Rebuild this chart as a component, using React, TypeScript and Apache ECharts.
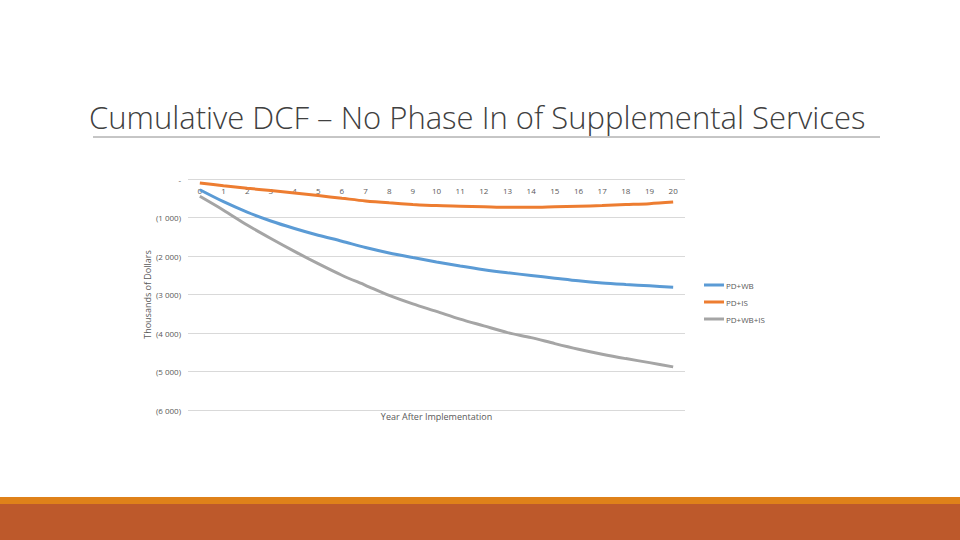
import React, { useEffect, useRef } from "react";
import * as echarts from "echarts";

const years = ["0","1","2","3","4","5","6","7","8","9","10","11","12","13","14","15","16","17","18","19","20"];
const pdWB = [-280, -590, -860, -1090, -1285, -1460, -1615, -1780, -1920, -2040, -2155, -2260, -2355, -2435, -2505, -2575, -2645, -2700, -2740, -2775, -2810];
const pdIS = [-105, -175, -240, -300, -365, -430, -500, -570, -620, -660, -690, -705, -720, -735, -735, -720, -705, -690, -665, -640, -600];
const pdWBIS = [-450, -810, -1195, -1545, -1880, -2200, -2500, -2760, -3025, -3245, -3440, -3640, -3815, -3990, -4120, -4275, -4420, -4550, -4665, -4770, -4880];
const seriesNames = ["PD+WB", "PD+IS", "PD+WB+IS"];
const seriesColors = ["#5B9BD5", "#ED7D31", "#A5A5A5"];
const titleText = "Cumulative DCF \u2013 No Phase In of Supplemental Services";

function fmt(v: number): string {
  if (v === 0) return "-";
  const a = Math.abs(v);
  const s = String(a).replace(/\B(?=(\d{3})+(?!\d))/g, " ");
  return v < 0 ? "(" + s + ")" : s;
}

export default function App() {
  const ref = useRef<HTMLDivElement>(null);
  useEffect(() => {
    if (!ref.current) return;
    const chart = echarts.init(ref.current, undefined, { renderer: "svg" });
    const labelFont = { color: "#595959", fontSize: 8, fontFamily: "Open Sans" };
    const data = [pdWB, pdIS, pdWBIS];
    chart.setOption({
      animation: false,
      backgroundColor: "#ffffff",
      graphic: [
        {
          type: "text",
          left: 89,
          top: 101,
          style: {
            text: titleText,
            fontSize: 31,
            fontFamily: "Open Sans",
            fontWeight: 300,
            fill: "#404040",
          },
        },
        {
          type: "line",
          shape: { x1: 93, y1: 137, x2: 880, y2: 137 },
          style: { stroke: "#8c8c8c", lineWidth: 1 },
        },
        {
          type: "rect",
          shape: { x: 0, y: 497, width: 960, height: 7 },
          style: { fill: "#DF8119" },
        },
        {
          type: "rect",
          shape: { x: 0, y: 504, width: 960, height: 36 },
          style: { fill: "#BD592B" },
        },
      ],
      legend: {
        orient: "vertical",
        left: 699,
        top: 276,
        itemGap: 9,
        itemWidth: 20,
        itemHeight: 3,
        icon: "rect",
        textStyle: { ...labelFont, fontSize: 8, padding: [0, 0, 0, -3] },
        data: seriesNames,
      },
      grid: { left: 188, right: 275, top: 179, bottom: 130 },
      xAxis: [
        {
          type: "category",
          data: years,
          position: "top",
          boundaryGap: true,
          axisLine: { show: false, onZero: false },
          axisTick: { show: false },
          axisLabel: { ...labelFont, verticalAlign: "middle", margin: -11 },
          splitLine: { show: false },
        },
        {
          type: "category",
          data: years,
          position: "bottom",
          axisLine: { show: false, onZero: false },
          axisTick: { show: false },
          axisLabel: { show: false },
          name: "Year After Implementation",
          nameLocation: "middle",
          nameGap: 2,
          nameMoveOverlap: false,
          nameTextStyle: { color: "#595959", fontSize: 9, fontFamily: "Open Sans" },
        },
      ],
      yAxis: {
        type: "value",
        min: -6000,
        max: 0,
        interval: 1000,
        axisLine: { show: false },
        axisTick: { show: false },
        axisLabel: { ...labelFont, margin: 7, formatter: (v: number) => fmt(v) },
        splitLine: { lineStyle: { color: "#d9d9d9", width: 1 } },
        name: "Thousands of Dollars",
        nameLocation: "middle",
        nameGap: 36,
        nameMoveOverlap: false,
        nameTextStyle: { color: "#595959", fontSize: 9, fontFamily: "Open Sans" },
      },
      series: seriesNames.map((n, i) => ({
        name: n,
        type: "line",
        xAxisIndex: 0,
        data: data[i],
        smooth: 0.3,
        showSymbol: false,
        symbol: "none",
        color: seriesColors[i],
        lineStyle: { width: 3, color: seriesColors[i] },
      })),
    });
    return () => chart.dispose();
  }, []);
  return (
    <div
      ref={ref}
      style={{ position: "fixed", left: 0, top: 0, width: 960, height: 540 }}
    />
  );
}
